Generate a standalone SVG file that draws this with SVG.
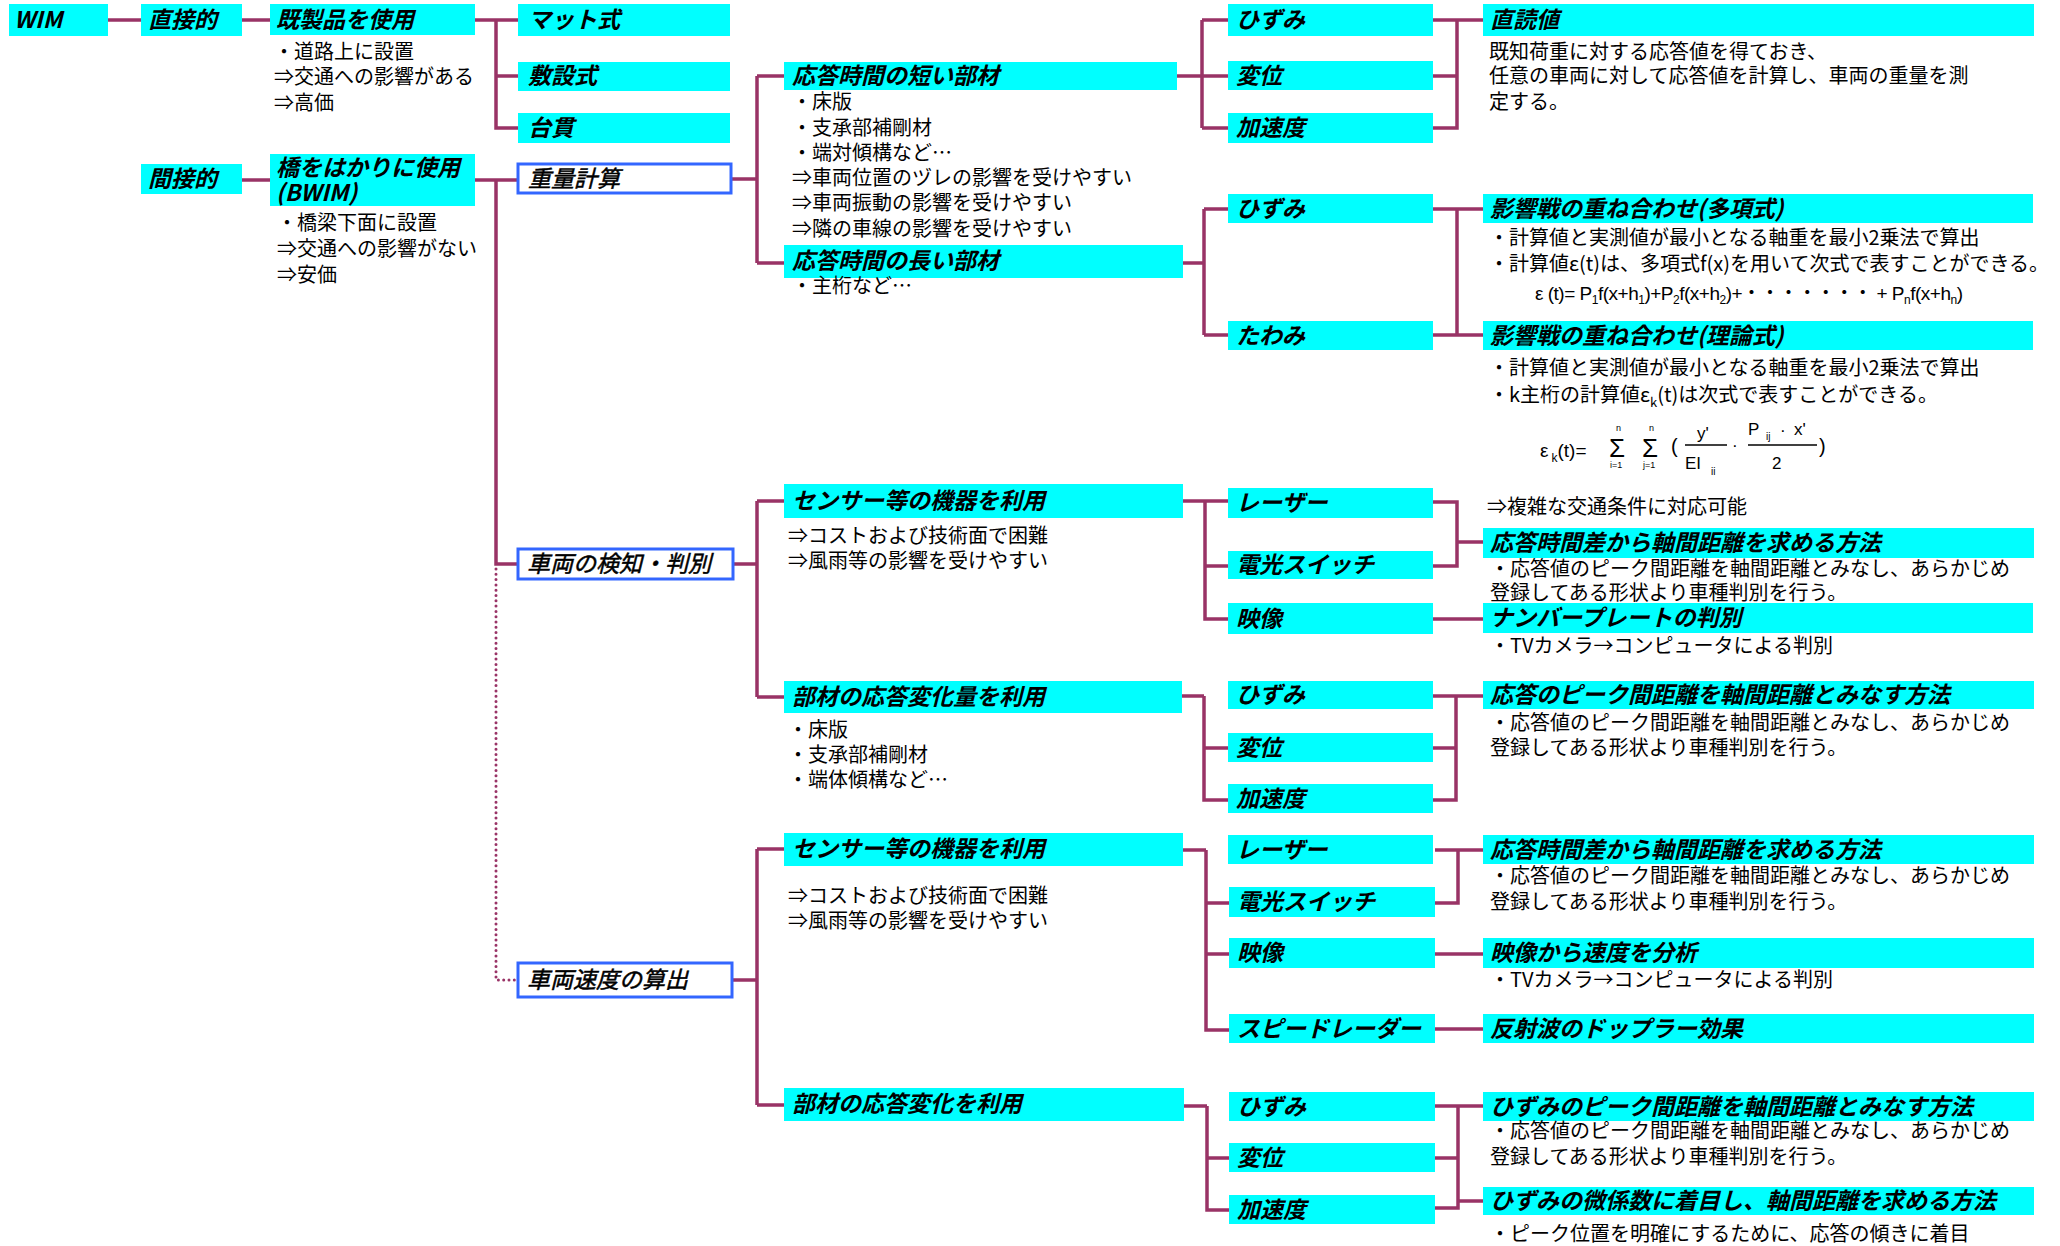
<svg xmlns="http://www.w3.org/2000/svg" width="2060" height="1246" viewBox="0 0 2060 1246">
<style>
.box{fill:#00ffff}
.wbox{fill:#ffffff;stroke:#3366ff;stroke-width:3}
.lbl{font-family:"Noto Sans CJK JP","Liberation Sans",sans-serif;font-size:23px;font-weight:bold;font-style:italic;fill:#000}
.lblw{font-family:"Noto Sans CJK JP","Liberation Sans",sans-serif;font-size:23px;font-weight:normal;font-style:italic;fill:#000;stroke:#000;stroke-width:0.5}
.txt{font-family:"Noto Sans CJK JP","Liberation Sans",sans-serif;font-size:20px;fill:#000}
.f{font-family:"Liberation Sans","Noto Sans CJK JP",sans-serif;fill:#000}
.ln{stroke:#993366;stroke-width:3.5;fill:none}
.dot{stroke:#993366;stroke-width:3;fill:none;stroke-dasharray:0 5.3;stroke-linecap:round}
.fl{stroke:#000;stroke-width:1.4}
</style>

<g id="connectors">
<path class="ln" d="M108 20H141"/>
<path class="ln" d="M242 20H270"/>
<path class="ln" d="M475 20H518M496 20V128H518M496 76H518"/>
<path class="ln" d="M242 180H270"/>
<path class="ln" d="M475 180H518"/>
<path class="ln" d="M496 180V564H518"/>
<path class="dot" d="M496 569V980H516"/>
<path class="ln" d="M731 179H757M757 76V263M757 76H784M757 263H784"/>
<path class="ln" d="M733 564H757M757 501V697M757 501H784M757 697H784"/>
<path class="ln" d="M732 980H757M757 849V1105M757 849H784M757 1105H784"/>
<path class="ln" d="M1177 76H1202M1202 20V128M1202 20H1228M1202 76H1228M1202 128H1228"/>
<path class="ln" d="M1183 263H1204M1204 209V335M1204 209H1228M1204 335H1228"/>
<path class="ln" d="M1183 501H1205M1205 501V619H1228M1205 501H1228M1205 566H1228"/>
<path class="ln" d="M1182 696H1204M1204 696V800H1228M1204 748H1228"/>
<path class="ln" d="M1183 850H1206M1206 850V1030H1229M1206 903H1229M1206 954H1229"/>
<path class="ln" d="M1184 1106H1207M1207 1106V1210H1229M1207 1158H1229"/>
<path class="ln" d="M1433 20H1483M1457 20V128H1433M1433 76H1457"/>
<path class="ln" d="M1433 209H1483M1457 209V335M1433 335H1483"/>
<path class="ln" d="M1433 502H1457V566H1433M1457 542H1483"/>
<path class="ln" d="M1433 619H1483"/>
<path class="ln" d="M1433 696H1483M1456 696V800H1433M1433 748H1456"/>
<path class="ln" d="M1435 850H1483M1458 850V903H1435"/>
<path class="ln" d="M1435 954H1483"/>
<path class="ln" d="M1435 1029H1483"/>
<path class="ln" d="M1435 1106H1483M1458 1106V1208H1435M1435 1158H1458M1458 1201H1483"/>
</g>

<g id="n-wim"><rect class="box" x="9" y="4" width="99" height="32"/><text class="lbl" x="14" y="28">WIM</text></g>
<g id="n-direct"><rect class="box" x="141" y="4" width="101" height="32"/><text class="lbl" x="148" y="28">直接的</text></g>
<g id="n-readymade"><rect class="box" x="270" y="4" width="205" height="31"/><text class="lbl" x="276" y="28">既製品を使用</text>
<text class="txt" x="274" y="59">・道路上に設置</text><text class="txt" x="274" y="84">⇒交通への影響がある</text><text class="txt" x="274" y="110">⇒高価</text></g>
<g id="n-mat"><rect class="box" x="518" y="4" width="212" height="32"/><text class="lbl" x="528" y="28">マット式</text></g>
<g id="n-laid"><rect class="box" x="518" y="62" width="212" height="29"/><text class="lbl" x="528" y="84">敷設式</text></g>
<g id="n-scale"><rect class="box" x="518" y="113" width="212" height="30"/><text class="lbl" x="528" y="136">台貫</text></g>
<g id="n-indirect"><rect class="box" x="141" y="164" width="101" height="30"/><text class="lbl" x="148" y="187">間接的</text></g>
<g id="n-bwim"><rect class="box" x="270" y="154" width="205" height="52"/><text class="lbl" x="276" y="176" font-size="22">橋をはかりに使用</text><text class="lbl" x="276" y="201" font-size="22">(BWIM)</text>
<text class="txt" x="277" y="230">・橋梁下面に設置</text><text class="txt" x="277" y="256">⇒交通への影響がない</text><text class="txt" x="277" y="282">⇒安価</text></g>
<g id="n-weight"><rect class="wbox" x="518" y="164" width="213" height="29"/><text class="lblw" x="528" y="187">重量計算</text></g>
<g id="n-detect"><rect class="wbox" x="518" y="549" width="215" height="30"/><text class="lblw" x="527" y="572">車両の検知・判別</text></g>
<g id="n-speed"><rect class="wbox" x="518" y="963" width="214" height="34"/><text class="lblw" x="527" y="988">車両速度の算出</text></g>

<g id="n-short"><rect class="box" x="784" y="62" width="393" height="28"/><text class="lbl" x="792" y="84">応答時間の短い部材</text>
<text class="txt" x="792" y="109">・床版</text><text class="txt" x="792" y="135">・支承部補剛材</text><text class="txt" x="792" y="160">・端対傾構など…</text>
<text class="txt" x="792" y="185">⇒車両位置のヅレの影響を受けやすい</text><text class="txt" x="792" y="210">⇒車両振動の影響を受けやすい</text><text class="txt" x="792" y="236">⇒隣の車線の影響を受けやすい</text></g>
<g id="n-long"><rect class="box" x="784" y="245" width="399" height="33"/><text class="lbl" x="792" y="269">応答時間の長い部材</text>
<text class="txt" x="792" y="293">・主桁など…</text></g>
<g id="n-sensor1"><rect class="box" x="784" y="484" width="399" height="34"/><text class="lbl" x="792" y="509">センサー等の機器を利用</text>
<text class="txt" x="788" y="543">⇒コストおよび技術面で困難</text><text class="txt" x="788" y="568">⇒風雨等の影響を受けやすい</text></g>
<g id="n-member1"><rect class="box" x="784" y="681" width="398" height="32"/><text class="lbl" x="792" y="705">部材の応答変化量を利用</text>
<text class="txt" x="788" y="737">・床版</text><text class="txt" x="788" y="762">・支承部補剛材</text><text class="txt" x="788" y="787">・端体傾構など…</text></g>
<g id="n-sensor2"><rect class="box" x="784" y="833" width="399" height="33"/><text class="lbl" x="792" y="857">センサー等の機器を利用</text>
<text class="txt" x="788" y="903">⇒コストおよび技術面で困難</text><text class="txt" x="788" y="928">⇒風雨等の影響を受けやすい</text></g>
<g id="n-member2"><rect class="box" x="784" y="1088" width="400" height="33"/><text class="lbl" x="792" y="1112">部材の応答変化を利用</text></g>

<g id="n-c3-1"><rect class="box" x="1228" y="4" width="205" height="32"/><text class="lbl" x="1236" y="28">ひずみ</text></g>
<g id="n-c3-2"><rect class="box" x="1228" y="61" width="205" height="29"/><text class="lbl" x="1236" y="84">変位</text></g>
<g id="n-c3-3"><rect class="box" x="1228" y="113" width="205" height="30"/><text class="lbl" x="1236" y="136">加速度</text></g>
<g id="n-c3-4"><rect class="box" x="1228" y="194" width="205" height="29"/><text class="lbl" x="1236" y="217">ひずみ</text></g>
<g id="n-c3-5"><rect class="box" x="1228" y="321" width="205" height="29"/><text class="lbl" x="1236" y="344">たわみ</text></g>
<g id="n-c3-6"><rect class="box" x="1228" y="488" width="205" height="30"/><text class="lbl" x="1236" y="511">レーザー</text></g>
<g id="n-c3-7"><rect class="box" x="1228" y="551" width="205" height="28"/><text class="lbl" x="1236" y="573">電光スイッチ</text></g>
<g id="n-c3-8"><rect class="box" x="1228" y="603" width="205" height="31"/><text class="lbl" x="1236" y="627">映像</text></g>
<g id="n-c3-9"><rect class="box" x="1228" y="681" width="205" height="28"/><text class="lbl" x="1236" y="703">ひずみ</text></g>
<g id="n-c3-10"><rect class="box" x="1228" y="733" width="205" height="29"/><text class="lbl" x="1236" y="756">変位</text></g>
<g id="n-c3-11"><rect class="box" x="1228" y="784" width="205" height="29"/><text class="lbl" x="1236" y="807">加速度</text></g>
<g id="n-c3-12"><rect class="box" x="1228" y="835" width="205" height="29"/><text class="lbl" x="1236" y="858">レーザー</text></g>
<g id="n-c3-13"><rect class="box" x="1229" y="887" width="206" height="30"/><text class="lbl" x="1237" y="910">電光スイッチ</text></g>
<g id="n-c3-14"><rect class="box" x="1229" y="938" width="206" height="30"/><text class="lbl" x="1237" y="961">映像</text></g>
<g id="n-c3-15"><rect class="box" x="1229" y="1014" width="206" height="29"/><text class="lbl" x="1237" y="1037">スピードレーダー</text></g>
<g id="n-c3-16"><rect class="box" x="1229" y="1092" width="206" height="29"/><text class="lbl" x="1237" y="1115">ひずみ</text></g>
<g id="n-c3-17"><rect class="box" x="1229" y="1143" width="206" height="29"/><text class="lbl" x="1237" y="1166">変位</text></g>
<g id="n-c3-18"><rect class="box" x="1229" y="1195" width="206" height="29"/><text class="lbl" x="1237" y="1218">加速度</text></g>

<g id="n-direct-read"><rect class="box" x="1483" y="4" width="551" height="32"/><text class="lbl" x="1490" y="28">直読値</text>
<text class="txt" x="1489" y="59">既知荷重に対する応答値を得ておき、</text>
<text class="txt" x="1489" y="83">任意の車両に対して応答値を計算し、車両の重量を測</text>
<text class="txt" x="1489" y="109">定する。</text></g>
<g id="n-poly"><rect class="box" x="1483" y="194" width="550" height="29"/><text class="lbl" x="1490" y="217">影響戦の重ね合わせ(多項式)</text>
<text class="txt" x="1489" y="245">・計算値と実測値が最小となる軸重を最小2乗法で算出</text>
<text class="txt" x="1489" y="271">・計算値ε(t)は、多項式f(x)を用いて次式で表すことができる。</text>
<text class="f" x="1535" y="300" font-size="19" textLength="428" lengthAdjust="spacing">ε (t)= P<tspan font-size="12" dy="4">1</tspan><tspan dy="-4">f(x+h</tspan><tspan font-size="12" dy="4">1</tspan><tspan dy="-4">)+P</tspan><tspan font-size="12" dy="4">2</tspan><tspan dy="-4">f(x+h</tspan><tspan font-size="12" dy="4">2</tspan><tspan dy="-4">)+・・・・・・・ + P</tspan><tspan font-size="12" dy="4">n</tspan><tspan dy="-4">f(x+h</tspan><tspan font-size="12" dy="4">n</tspan><tspan dy="-4">)</tspan></text></g>
<g id="n-theory"><rect class="box" x="1483" y="321" width="550" height="29"/><text class="lbl" x="1490" y="344">影響戦の重ね合わせ(理論式)</text>
<text class="txt" x="1489" y="375">・計算値と実測値が最小となる軸重を最小2乗法で算出</text>
<text class="txt" x="1489" y="402">・k主桁の計算値ε<tspan font-size="13" dy="5">k</tspan><tspan dy="-5">(t)は次式で表すことができる。</tspan></text>
<text class="f" x="1540" y="457" font-size="19">ε<tspan font-size="12" dx="3" dy="5">k</tspan><tspan dy="-5">(t)=</tspan></text>
<text class="f" x="1609" y="457" font-size="26">Σ</text>
<text class="f" x="1616" y="431" font-size="9">n</text>
<text class="f" x="1610" y="468" font-size="9">i=1</text>
<text class="f" x="1642" y="457" font-size="26">Σ</text>
<text class="f" x="1649" y="431" font-size="9">n</text>
<text class="f" x="1643" y="468" font-size="9">j=1</text>
<text class="f" x="1671" y="453" font-size="20">(</text>
<text class="f" x="1697" y="439" font-size="17">y'</text>
<line class="fl" x1="1685" y1="445" x2="1727" y2="445"/>
<text class="f" x="1685" y="469" font-size="17">EI</text>
<text class="f" x="1711" y="475" font-size="10">ii</text>
<text class="f" x="1732" y="451" font-size="17">·</text>
<text class="f" x="1748" y="435" font-size="17">P</text>
<text class="f" x="1766" y="440" font-size="10">ij</text>
<text class="f" x="1780" y="436" font-size="17">·</text>
<text class="f" x="1794" y="435" font-size="17">x'</text>
<line class="fl" x1="1748" y1="445" x2="1817" y2="445"/>
<text class="f" x="1772" y="469" font-size="17">2</text>
<text class="f" x="1819" y="453" font-size="20">)</text></g>

<g id="n-complex"><text class="txt" x="1487" y="514">⇒複雑な交通条件に対応可能</text></g>
<g id="n-timediff1"><rect class="box" x="1483" y="528" width="551" height="30"/><text class="lbl" x="1490" y="551">応答時間差から軸間距離を求める方法</text>
<text class="txt" x="1490" y="576">・応答値のピーク間距離を軸間距離とみなし、あらかじめ</text>
<text class="txt" x="1490" y="600">登録してある形状より車種判別を行う。</text></g>
<g id="n-plate"><rect class="box" x="1483" y="603" width="550" height="30"/><text class="lbl" x="1490" y="626">ナンバープレートの判別</text>
<text class="txt" x="1490" y="653">・TVカメラ→コンピュータによる判別</text></g>
<g id="n-peak1"><rect class="box" x="1483" y="681" width="551" height="28"/><text class="lbl" x="1490" y="703">応答のピーク間距離を軸間距離とみなす方法</text>
<text class="txt" x="1490" y="730">・応答値のピーク間距離を軸間距離とみなし、あらかじめ</text>
<text class="txt" x="1490" y="755">登録してある形状より車種判別を行う。</text></g>
<g id="n-timediff2"><rect class="box" x="1483" y="835" width="551" height="29"/><text class="lbl" x="1490" y="858">応答時間差から軸間距離を求める方法</text>
<text class="txt" x="1490" y="883">・応答値のピーク間距離を軸間距離とみなし、あらかじめ</text>
<text class="txt" x="1490" y="909">登録してある形状より車種判別を行う。</text></g>
<g id="n-video-speed"><rect class="box" x="1483" y="938" width="551" height="30"/><text class="lbl" x="1490" y="961">映像から速度を分析</text>
<text class="txt" x="1490" y="987">・TVカメラ→コンピュータによる判別</text></g>
<g id="n-doppler"><rect class="box" x="1483" y="1014" width="551" height="29"/><text class="lbl" x="1490" y="1037">反射波のドップラー効果</text></g>
<g id="n-peak2"><rect class="box" x="1483" y="1092" width="551" height="29"/><text class="lbl" x="1490" y="1115">ひずみのピーク間距離を軸間距離とみなす方法</text>
<text class="txt" x="1490" y="1138">・応答値のピーク間距離を軸間距離とみなし、あらかじめ</text>
<text class="txt" x="1490" y="1164">登録してある形状より車種判別を行う。</text></g>
<g id="n-deriv"><rect class="box" x="1483" y="1187" width="551" height="28"/><text class="lbl" x="1490" y="1209">ひずみの微係数に着目し、軸間距離を求める方法</text>
<text class="txt" x="1490" y="1241">・ピーク位置を明確にするために、応答の傾きに着目</text></g>
</svg>
